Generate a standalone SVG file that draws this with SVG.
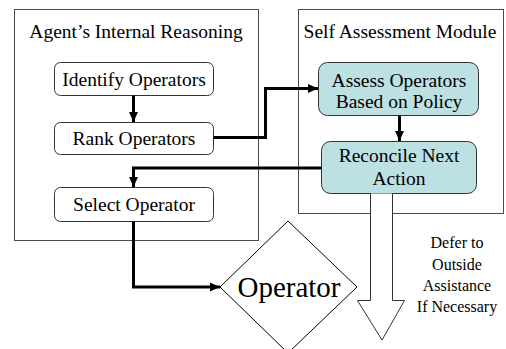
<svg xmlns="http://www.w3.org/2000/svg" width="506" height="349" viewBox="0 0 506 349">
  <style>
    .frame { fill: #ffffff; stroke: #4a4a4a; stroke-width: 1; }
    .step { fill: #ffffff; stroke: #333333; stroke-width: 1; }
    .step-blue { fill: #bde0e3; stroke: #333333; stroke-width: 1; }
    .lbl { font-family: "Liberation Serif", "Times New Roman", serif; font-size: 19.5px; fill: #000000; text-anchor: middle; }
    .note { font-size: 16px; }
    .big { font-size: 29px; }
    .outline { fill: none; stroke: #333333; stroke-width: 1; }
    .wire { fill: none; stroke: #000000; stroke-width: 3; }
  </style>
  <defs>
    <marker id="head" markerUnits="userSpaceOnUse" viewBox="0 0 10 10" refX="10" refY="5" markerWidth="10" markerHeight="10" orient="auto">
      <path d="M0,0.5 L10,5 L0,9.5 Z" fill="#000000"/>
    </marker>
  </defs>

  <!-- container: agent's internal reasoning -->
  <g id="agent-reasoning">
    <rect class="frame" x="14.5" y="9.5" width="244" height="231"/>
    <text class="lbl" x="136" y="37.5">Agent’s Internal Reasoning</text>
  </g>

  <!-- container: self assessment module -->
  <g id="self-assessment">
    <rect class="frame" x="298.5" y="9.5" width="205" height="204"/>
    <text class="lbl" x="400" y="37.5">Self Assessment Module</text>
  </g>

  <g id="identify-operators">
    <rect class="step" x="54.5" y="62.5" width="159" height="33" rx="6"/>
    <text class="lbl" x="134" y="85.5">Identify Operators</text>
  </g>

  <g id="rank-operators">
    <rect class="step" x="54.5" y="122.5" width="159" height="32" rx="6"/>
    <text class="lbl" x="134" y="145">Rank Operators</text>
  </g>

  <g id="select-operator">
    <rect class="step" x="54.5" y="187.5" width="159" height="34" rx="6"/>
    <text class="lbl" x="134" y="211">Select Operator</text>
  </g>

  <g id="assess-operators">
    <rect class="step-blue" x="318.5" y="62.5" width="160" height="53" rx="9"/>
    <text class="lbl" x="399" y="86.5">Assess Operators</text>
    <text class="lbl" x="399" y="108">Based on Policy</text>
  </g>

  <g id="reconcile-action">
    <rect class="step-blue" x="321.5" y="141.5" width="155" height="52" rx="9"/>
    <text class="lbl" x="399" y="162">Reconcile Next</text>
    <text class="lbl" x="399" y="185">Action</text>
  </g>

  <!-- hollow arrow leaving the module, drawn over the frame edge -->
  <g id="defer-arrow">
    <path d="M370.5,193.5 L370.5,300.5 L357.5,300.5 L382,340 L404.5,300.5 L392.5,300.5 L392.5,193.5 Z" fill="#ffffff" stroke="none"/>
    <path class="outline" d="M370.5,193.5 L370.5,300.5 L357.5,300.5 L382,340 L404.5,300.5 L392.5,300.5 L392.5,193.5"/>
    <text class="lbl note" x="457" y="248">Defer to</text>
    <text class="lbl note" x="457" y="270">Outside</text>
    <text class="lbl note" x="457" y="291">Assistance</text>
    <text class="lbl note" x="457" y="312">If Necessary</text>
  </g>

  <g id="operator">
    <polygon points="288,221 357,287 288,353 220,287" fill="#ffffff" stroke="#000000" stroke-width="1"/>
    <text class="lbl big" x="289" y="297">Operator</text>
  </g>

  <g id="connectors">
    <path class="wire" d="M133.5,95.5 L133.5,122" marker-end="url(#head)"/>
    <path class="wire" d="M213.5,137.5 L265.5,137.5 L265.5,88.5 L318,88.5" marker-end="url(#head)"/>
    <path class="wire" d="M399.5,115.5 L399.5,141" marker-end="url(#head)"/>
    <path class="wire" d="M321.5,168 L133.5,168 L133.5,187" marker-end="url(#head)"/>
    <path class="wire" d="M133.5,221.5 L133.5,287 L220,287" marker-end="url(#head)"/>
  </g>
</svg>
